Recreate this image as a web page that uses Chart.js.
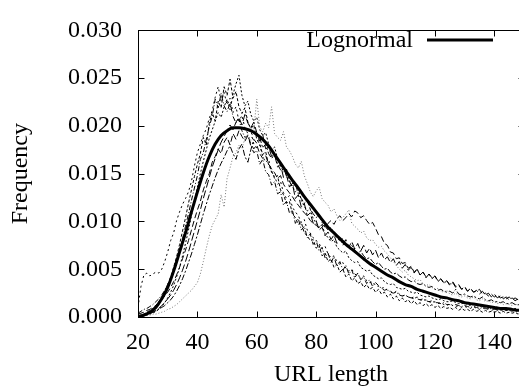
<!DOCTYPE html>
<html>
<head>
<meta charset="utf-8">
<script src="https://cdn.jsdelivr.net/npm/chart.js@4/dist/chart.umd.min.js"></script>
<style>
  html, body { margin: 0; padding: 0; background: #fff; overflow: hidden; }
  #wrap { width: 526px; height: 392px; }
</style>
</head>
<body>
<div id="wrap"><canvas id="chart" width="526" height="392"></canvas></div>
<script>
// URL length axis (one sample per character for the measured runs, every 2 for the fit)
const urlLength = Array.from({length: 131}, (_, i) => 20 + i);
const fitLength = Array.from({length: 66}, (_, i) => 20 + 2 * i);

const xTickValues = [20, 40, 60, 80, 100, 120, 140];
const yTickValues = [0, 0.005, 0.010, 0.015, 0.020, 0.025, 0.030];

// Fitted lognormal curve
const lognormal = [
  .0000, .0002, .0005, .0010, .0019, .0031, .0048, .0068, .0088, .0110,
  .0131, .0151, .0168, .0181, .0190, .0195, .0198, .0198, .0197, .0195,
  .0191, .0186, .0179, .0170, .0161, .0152, .0143, .0135, .0126, .0118,
  .0110, .0102, .0094, .0088, .0082, .0076, .0071, .0066, .0061, .0056,
  .0052, .0048, .0044, .0041, .0037, .0034, .0032, .0029, .0027, .0025,
  .0023, .0021, .0020, .0018, .0017, .0015, .0014, .0013, .0012, .0011,
  .0010, .0009, .0009, .0008, .0007, .0007
];

// Measured URL length distributions (thin lines)
const run1 = [
  .0010, .0032, .0044, .0046, .0043, .0045, .0047, .0046, .0050, .0058,
  .0068, .0080, .0088, .0101, .0110, .0118, .0124, .0131, .0142, .0158,
  .0172, .0181, .0190, .0197, .0208, .0216, .0230, .0241, .0226, .0235,
  .0222, .0229, .0214, .0220, .0205, .0211, .0198, .0192, .0196, .0181,
  .0177, .0180, .0168, .0162, .0165, .0151, .0147, .0139, .0142, .0130,
  .0124, .0127, .0115, .0110, .0106, .0099, .0102, .0091, .0088, .0083,
  .0080, .0077, .0071, .0074, .0066, .0062, .0064, .0058, .0055, .0057,
  .0051, .0048, .0050, .0045, .0043, .0041, .0043, .0038, .0036, .0037,
  .0033, .0032, .0030, .0031, .0028, .0027, .0025, .0027, .0024, .0022,
  .0023, .0021, .0020, .0019, .0021, .0018, .0017, .0018, .0016, .0015,
  .0016, .0014, .0015, .0013, .0012, .0014, .0012, .0011, .0012, .0010,
  .0011, .0010, .0009, .0011, .0009, .0008, .0010, .0008, .0009, .0007,
  .0008, .0007, .0008, .0006, .0007, .0007, .0006, .0007, .0006, .0005,
  .0006
];
const run2 = [
  .0000, .0001, .0001, .0002, .0002, .0003, .0003, .0004, .0005, .0006,
  .0008, .0009, .0011, .0013, .0016, .0019, .0022, .0025, .0028, .0032,
  .0036, .0045, .0058, .0072, .0085, .0096, .0102, .0108, .0128, .0115,
  .0145, .0156, .0168, .0172, .0180, .0176, .0187, .0191, .0185, .0196,
  .0228, .0199, .0194, .0203, .0198, .0220, .0192, .0188, .0185, .0194,
  .0178, .0174, .0168, .0160, .0156, .0163, .0148, .0140, .0131, .0126,
  .0132, .0136, .0124, .0120, .0117, .0110, .0113, .0106, .0101, .0104,
  .0108, .0112, .0098, .0095, .0092, .0088, .0090, .0083, .0080, .0081,
  .0076, .0073, .0074, .0069, .0066, .0062, .0058, .0054, .0050, .0047,
  .0049, .0044, .0042, .0040, .0038, .0039, .0035, .0033, .0034, .0031,
  .0029, .0030, .0027, .0026, .0028, .0024, .0023, .0025, .0022, .0021,
  .0022, .0020, .0019, .0021, .0018, .0017, .0019, .0016, .0017, .0015,
  .0016, .0014, .0015, .0013, .0014, .0013, .0012, .0014, .0012, .0011,
  .0012
];
const run3 = [
  .0003, .0004, .0005, .0007, .0008, .0010, .0012, .0015, .0018, .0022,
  .0026, .0031, .0037, .0044, .0052, .0061, .0070, .0080, .0091, .0102,
  .0112, .0121, .0133, .0142, .0150, .0162, .0168, .0176, .0171, .0183,
  .0188, .0180, .0192, .0186, .0195, .0189, .0184, .0190, .0181, .0176,
  .0180, .0171, .0166, .0169, .0160, .0155, .0151, .0145, .0148, .0139,
  .0134, .0130, .0126, .0121, .0117, .0113, .0109, .0106, .0101, .0098,
  .0096, .0093, .0097, .0094, .0098, .0101, .0097, .0103, .0106, .0101,
  .0104, .0108, .0105, .0111, .0109, .0104, .0106, .0101, .0097, .0099,
  .0093, .0086, .0084, .0077, .0075, .0068, .0067, .0061, .0062, .0056,
  .0057, .0051, .0053, .0047, .0050, .0044, .0047, .0042, .0045, .0041,
  .0043, .0038, .0040, .0036, .0038, .0034, .0037, .0032, .0033, .0029,
  .0031, .0027, .0030, .0026, .0027, .0029, .0024, .0025, .0022, .0024,
  .0021, .0023, .0020, .0021, .0019, .0021, .0018, .0020, .0018, .0019,
  .0017
];
const run4 = [
  .0002, .0002, .0003, .0003, .0004, .0005, .0006, .0008, .0010, .0012,
  .0015, .0018, .0022, .0027, .0033, .0040, .0048, .0057, .0066, .0076,
  .0086, .0097, .0108, .0118, .0128, .0137, .0146, .0154, .0161, .0167,
  .0174, .0179, .0171, .0165, .0176, .0181, .0168, .0162, .0175, .0186,
  .0182, .0188, .0177, .0181, .0171, .0166, .0170, .0160, .0154, .0157,
  .0147, .0142, .0136, .0139, .0129, .0124, .0119, .0122, .0113, .0108,
  .0104, .0107, .0099, .0095, .0091, .0094, .0087, .0083, .0080, .0082,
  .0076, .0073, .0075, .0070, .0067, .0069, .0064, .0061, .0062, .0058,
  .0055, .0057, .0053, .0050, .0051, .0047, .0045, .0046, .0043, .0041,
  .0042, .0039, .0037, .0038, .0035, .0034, .0035, .0032, .0031, .0032,
  .0029, .0028, .0029, .0027, .0026, .0027, .0025, .0029, .0024, .0023,
  .0024, .0022, .0021, .0022, .0020, .0019, .0021, .0018, .0017, .0018,
  .0016, .0016, .0015, .0016, .0014, .0014, .0015, .0013, .0013, .0012,
  .0012
];
const run5 = [
  .0001, .0002, .0003, .0005, .0007, .0009, .0012, .0016, .0021, .0027,
  .0034, .0042, .0052, .0063, .0076, .0090, .0104, .0119, .0133, .0147,
  .0160, .0171, .0188, .0180, .0203, .0214, .0205, .0226, .0219, .0241,
  .0232, .0249, .0229, .0236, .0220, .0213, .0219, .0204, .0197, .0201,
  .0186, .0181, .0170, .0173, .0159, .0153, .0145, .0148, .0133, .0128,
  .0119, .0121, .0108, .0104, .0097, .0099, .0088, .0085, .0080, .0081,
  .0072, .0075, .0064, .0067, .0058, .0061, .0052, .0055, .0047, .0050,
  .0042, .0045, .0038, .0041, .0035, .0037, .0031, .0034, .0029, .0031,
  .0026, .0029, .0024, .0026, .0021, .0024, .0019, .0022, .0017, .0020,
  .0016, .0018, .0014, .0017, .0013, .0015, .0012, .0014, .0011, .0013,
  .0010, .0012, .0009, .0011, .0009, .0010, .0008, .0010, .0007, .0009,
  .0007, .0008, .0006, .0008, .0006, .0007, .0005, .0007, .0005, .0006,
  .0005, .0006, .0004, .0006, .0004, .0005, .0004, .0005, .0003, .0005,
  .0004
];
const run6 = [
  .0000, .0001, .0001, .0002, .0003, .0004, .0006, .0008, .0011, .0015,
  .0020, .0026, .0033, .0042, .0052, .0064, .0077, .0091, .0106, .0121,
  .0136, .0150, .0163, .0175, .0187, .0196, .0205, .0214, .0209, .0220,
  .0228, .0217, .0233, .0244, .0253, .0232, .0221, .0226, .0212, .0205,
  .0209, .0196, .0190, .0193, .0181, .0175, .0178, .0166, .0159, .0152,
  .0155, .0143, .0137, .0131, .0134, .0122, .0116, .0111, .0113, .0103,
  .0098, .0094, .0096, .0087, .0083, .0079, .0081, .0073, .0070, .0067,
  .0069, .0062, .0059, .0057, .0058, .0052, .0050, .0048, .0049, .0044,
  .0042, .0040, .0041, .0037, .0035, .0034, .0035, .0031, .0030, .0029,
  .0030, .0027, .0026, .0025, .0026, .0023, .0022, .0021, .0022, .0020,
  .0019, .0018, .0019, .0017, .0016, .0016, .0017, .0015, .0014, .0014,
  .0015, .0013, .0012, .0013, .0012, .0011, .0012, .0010, .0011, .0010,
  .0009, .0010, .0009, .0008, .0009, .0008, .0008, .0009, .0008, .0007,
  .0008
];
const run7 = [
  .0004, .0006, .0008, .0009, .0011, .0013, .0016, .0019, .0023, .0028,
  .0034, .0041, .0049, .0059, .0070, .0082, .0095, .0108, .0122, .0135,
  .0148, .0165, .0172, .0186, .0199, .0210, .0228, .0219, .0234, .0221,
  .0215, .0224, .0210, .0203, .0207, .0195, .0188, .0190, .0179, .0172,
  .0174, .0160, .0165, .0152, .0149, .0138, .0142, .0129, .0131, .0117,
  .0121, .0109, .0112, .0098, .0103, .0091, .0095, .0083, .0087, .0076,
  .0080, .0069, .0073, .0062, .0067, .0057, .0063, .0053, .0058, .0049,
  .0054, .0045, .0049, .0041, .0046, .0039, .0042, .0035, .0039, .0032,
  .0036, .0033, .0030, .0028, .0029, .0026, .0025, .0026, .0023, .0022,
  .0023, .0021, .0020, .0021, .0019, .0018, .0019, .0017, .0016, .0017,
  .0015, .0015, .0014, .0015, .0013, .0013, .0012, .0013, .0012, .0011,
  .0012, .0011, .0010, .0011, .0010, .0009, .0010, .0009, .0008, .0009,
  .0008, .0008, .0007, .0008, .0007, .0007, .0006, .0007, .0006, .0006,
  .0006
];
const run8 = [
  .0001, .0001, .0002, .0003, .0004, .0005, .0007, .0009, .0012, .0015,
  .0019, .0023, .0028, .0034, .0041, .0049, .0058, .0068, .0079, .0090,
  .0101, .0112, .0124, .0135, .0146, .0157, .0166, .0175, .0183, .0189,
  .0195, .0201, .0196, .0204, .0209, .0201, .0212, .0203, .0198, .0204,
  .0193, .0184, .0191, .0176, .0178, .0168, .0170, .0157, .0160, .0146,
  .0149, .0136, .0140, .0124, .0128, .0115, .0119, .0106, .0109, .0098,
  .0101, .0091, .0094, .0085, .0089, .0081, .0086, .0077, .0083, .0075,
  .0081, .0073, .0079, .0071, .0077, .0069, .0075, .0067, .0072, .0065,
  .0070, .0062, .0067, .0060, .0063, .0057, .0061, .0054, .0058, .0051,
  .0055, .0049, .0052, .0046, .0050, .0044, .0047, .0041, .0045, .0040,
  .0043, .0037, .0040, .0035, .0038, .0033, .0036, .0031, .0034, .0029,
  .0032, .0027, .0030, .0026, .0028, .0024, .0027, .0023, .0025, .0021,
  .0024, .0020, .0022, .0019, .0021, .0018, .0020, .0017, .0019, .0016,
  .0018
];

const runs = [run1, run2, run3, run4, run5, run6, run7, run8];
const runColors = ['#000', '#777', '#000', '#000', '#000', '#000', '#000', '#000'];
const runDashes = [[2, 3], [1, 2], [6, 3], [6, 2, 2, 2], [3, 2], [2, 2], [5, 2, 1, 2], [8, 3]];

const FONT = '"Liberation Serif", "DejaVu Serif", serif';
const FONT_SIZE = 24;

function pairs(xs, ys) {
  return ys.map((y, i) => ({x: xs[i], y: y}));
}

const datasets = [{
  label: 'Lognormal',
  data: pairs(fitLength, lognormal),
  borderColor: '#000',
  borderWidth: 3,
  pointRadius: 0,
  cubicInterpolationMode: 'monotone',
  fill: false
}];
runs.forEach((r, i) => {
  datasets.push({
    label: 'run' + (i + 1),
    data: pairs(urlLength, r),
    borderColor: runColors[i],
    borderWidth: 1,
    borderDash: runDashes[i],
    pointRadius: 0,
    tension: 0,
    fill: false
  });
});

/**
 * gnuplot style frame: border box with inward ticks on all four sides, plus the key.
 */
const framePlugin = {
  id: 'frame',
  afterDraw(chart) {
    const ctx = chart.ctx;
    const a = chart.chartArea;
    const xs = chart.scales.x, ys = chart.scales.y;
    const L = Math.round(a.left) + 0.5, R = Math.round(a.right) + 0.5;
    const T = Math.round(a.top) + 0.5, B = Math.round(a.bottom) + 0.5;
    ctx.save();
    ctx.strokeStyle = '#000';
    ctx.lineWidth = 1;
    ctx.setLineDash([]);
    ctx.strokeRect(L, T, R - L, B - T);
    const tl = 6;
    ctx.beginPath();
    xTickValues.forEach(v => {
      const px = Math.round(xs.getPixelForValue(v)) + 0.5;
      ctx.moveTo(px, B); ctx.lineTo(px, B - tl);
      ctx.moveTo(px, T); ctx.lineTo(px, T + tl);
    });
    yTickValues.forEach(v => {
      const py = Math.round(ys.getPixelForValue(v)) + 0.5;
      ctx.moveTo(L, py); ctx.lineTo(L + tl, py);
      ctx.moveTo(R, py); ctx.lineTo(R - tl, py);
    });
    ctx.stroke();

    // key, top right: label then line sample
    ctx.font = FONT_SIZE + 'px ' + FONT;
    ctx.fillStyle = '#000';
    ctx.textAlign = 'right';
    ctx.textBaseline = 'middle';
    ctx.fillText('Lognormal', 413, 41);
    ctx.lineWidth = 3;
    ctx.beginPath();
    ctx.moveTo(427, 40);
    ctx.lineTo(493, 40);
    ctx.stroke();
    ctx.restore();
  }
};

new Chart(document.getElementById('chart'), {
  type: 'line',
  data: {datasets: datasets},
  plugins: [framePlugin],
  options: {
    responsive: false,
    animation: false,
    events: [],
    layout: {padding: {top: 21, right: 2, left: 0, bottom: 0}},
    plugins: {legend: {display: false}, tooltip: {enabled: false}},
    scales: {
      x: {
        type: 'linear',
        min: 20,
        max: 150,
        afterBuildTicks: (s) => { s.ticks = xTickValues.map(v => ({value: v})); },
        afterFit: (s) => { s.height = 75; },
        grid: {display: false, drawTicks: false},
        border: {display: false},
        ticks: {
          autoSkip: false,
          maxRotation: 0,
          padding: 11,
          color: '#000',
          font: {family: FONT, size: FONT_SIZE}
        },
        title: {
          display: true,
          text: 'URL length',
          color: '#000',
          font: {family: FONT, size: FONT_SIZE},
          padding: {top: 0, bottom: 3}
        }
      },
      y: {
        min: 0,
        max: 0.03,
        afterBuildTicks: (s) => { s.ticks = yTickValues.map(v => ({value: v})); },
        afterFit: (s) => { s.width = 138; },
        grid: {display: false, drawTicks: false},
        border: {display: false},
        ticks: {
          padding: 16,
          color: '#000',
          font: {family: FONT, size: FONT_SIZE},
          callback: (v) => v.toFixed(3)
        },
        title: {
          display: true,
          text: 'Frequency',
          color: '#000',
          font: {family: FONT, size: FONT_SIZE},
          padding: {top: 6, bottom: 0}
        }
      }
    }
  }
});
</script>
</body>
</html>
